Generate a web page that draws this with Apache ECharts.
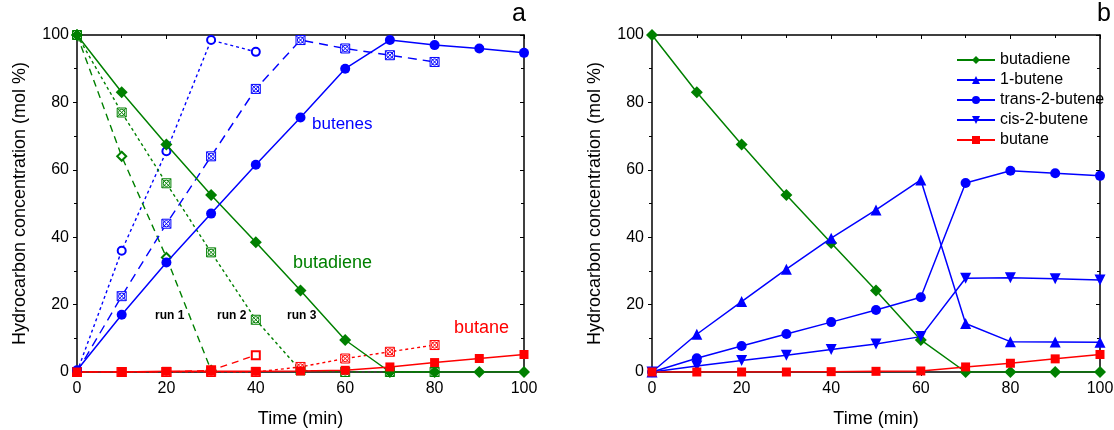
<!DOCTYPE html>
<html><head><meta charset="utf-8">
<script src="https://cdn.jsdelivr.net/npm/echarts@6/dist/echarts.min.js"></script>
<style>html,body{margin:0;padding:0;background:#fff}#c{width:1114px;height:430px}</style>
</head><body><div id="c"></div>
<script>
// ---- data ----
var time = [0,10,20,30,40,50,60,70,80,90,100];
// panel a, run 3 (solid)
var aButadiene3 = [100,83,67.5,52.5,38.5,24.2,9.5,0,0,0,0];
var aButenes3   = [0.5,17,32.5,47,61.5,75.5,90,98.5,97,96,94.7];
var aButane3    = [0,0,0.2,0.2,0.2,0.3,0.5,1.5,2.8,4,5.2];
// run 1
var run1Time = [0,10,20,30,40];
var aButadiene1 = [100,64,34,0.5,null];
var aButenes1   = [0,36,65.5,98.5,95];
var aButane1    = [0,0,0,0.5,5];
// run 2
var run2Time = [0,10,20,30,40,50,60,70,80];
var aButadiene2 = [100,77,56,35.5,15.5,0.5,0,0,0];
var aButenes2   = [0,22.5,44,64,84,98.5,96,94,92];
var aButane2    = [0,0,0,0,0,1.5,4,6,8];
// panel b
var bButadiene = [100,83,67.5,52.5,38.3,24.2,9.5,0,0,0,0];
var b1Butene   = [0,11.2,20.9,30.5,39.7,48.1,57,14.4,9,8.9,8.8];
var bTrans     = [0,4.1,7.7,11.3,14.8,18.4,22.2,56.1,59.7,59,58.2];
var bCis       = [0,1.8,3.4,5,6.7,8.3,10.5,27.8,28,27.7,27.3];
var bButane    = [0,0,0,0,0.1,0.2,0.3,1.5,2.6,3.9,5.2];
var legendNames = ['butadiene','1-butene','trans-2-butene','cis-2-butene','butane'];

function pairs(xs, ys){ var o=[]; for(var i=0;i<xs.length;i++){ if(ys[i]!=null) o.push([xs[i],ys[i]]);} return o; }

var GREEN='#008000', BLUE='#0000ff', RED='#ff0000';
var FONT='Liberation Sans';
var crossSym = 'path://M0,0 L10,0 L10,10 L0,10 Z M0,0 L10,10 M10,0 L0,10 M1.5,5 A3.5,3.5 0 1 1 8.5,5 A3.5,3.5 0 1 1 1.5,5 Z';

function xAx(grid, pos, show){
  return {type:'value', gridIndex:grid, min:0, max:100, interval:20, position:pos,
    name: show?'Time (min)':'', nameLocation:'middle', nameGap:38,
    nameTextStyle:{fontFamily:FONT,fontSize:18,color:'#000'},
    axisLine:{show:true,onZero:false,lineStyle:{color:'#000',width:1.5}},
    axisTick:{show:true,inside:!show,length:4,lineStyle:{color:'#000'}},
    minorTick:{show:true,splitNumber:2,length:3,lineStyle:{color:'#000'}},
    axisLabel:{show:show,fontFamily:FONT,fontSize:16,color:'#000',margin:9},
    splitLine:{show:false}};
}
function yAx(grid, pos, show){
  return {type:'value', gridIndex:grid, min:0, max:100, interval:20, position:pos,
    name: show?'Hydrocarbon concentration (mol %)':'', nameLocation:'middle', nameGap:48,
    nameTextStyle:{fontFamily:FONT,fontSize:18,color:'#000'},
    axisLine:{show:true,onZero:false,lineStyle:{color:'#000',width:1.5}},
    axisTick:{show:true,inside:!show,length:4,lineStyle:{color:'#000'}},
    minorTick:{show:true,splitNumber:2,length:3,lineStyle:{color:'#000'}},
    axisLabel:{show:show,fontFamily:FONT,fontSize:16,color:'#000',margin:8},
    splitLine:{show:false}};
}

function solid(name, xi, yi, xs, ys, color, sym, size){
  return {name:name, type:'line', xAxisIndex:xi, yAxisIndex:yi, data:pairs(xs,ys),
    symbol:sym, symbolSize:size, showSymbol:true, z:3,
    lineStyle:{color:color,width:1.5}, itemStyle:{color:color}, animation:false};
}
function open(xi, yi, xs, ys, color, sym, dash, size){
  var isPath = sym.indexOf('path://')===0;
  return {type:'line', xAxisIndex:xi, yAxisIndex:yi, data:pairs(xs,ys),
    symbol:sym, symbolSize:size, showSymbol:true, z:2,
    lineStyle:{color:color,width:1.4,type:dash},
    itemStyle: isPath ? {color:'#fff',borderColor:color,borderWidth:1} : {color:color,borderWidth:1.2},
    animation:false};
}

var option = {
  backgroundColor:'#fff',
  animation:false,
  grid:[{left:77,right:590,top:35,bottom:58,outerBoundsMode:'none',containLabel:false},
        {left:652,right:14,top:35,bottom:58,outerBoundsMode:'none',containLabel:false}],
  xAxis:[xAx(0,'bottom',true), xAx(0,'top',false), xAx(1,'bottom',true), xAx(1,'top',false)],
  yAxis:[yAx(0,'left',true), yAx(0,'right',false), yAx(1,'left',true), yAx(1,'right',false)],
  legend:{show:true, orient:'vertical', left:951, top:47, itemWidth:38, itemHeight:10, itemGap:4,
    textStyle:{fontFamily:FONT,fontSize:16,color:'#000'},
    data:legendNames},
  series:[
    // panel a run 1
    open(0,0,run1Time,aButenes1,BLUE,'emptyCircle',[3,3],8),
    open(0,0,run1Time,aButadiene1,GREEN,'emptyDiamond',[7,5],9),
    open(0,0,run1Time,aButane1,RED,'emptyRect',[7,5],8),
    // run 2
    open(0,0,run2Time,aButenes2,BLUE,crossSym,[9,6],9),
    open(0,0,run2Time,aButadiene2,GREEN,crossSym,[3,3],9),
    open(0,0,run2Time,aButane2,RED,crossSym,[3,3],9),
    // run 3
    solid('a-butadiene',0,0,time,aButadiene3,GREEN,'diamond',12),
    solid('a-butenes',0,0,time,aButenes3,BLUE,'circle',10),
    solid('a-butane',0,0,time,aButane3,RED,'rect',9),
    // panel b
    solid(legendNames[0],2,2,time,bButadiene,GREEN,'diamond',12),
    solid(legendNames[1],2,2,time,b1Butene,BLUE,'triangle',11),
    solid(legendNames[2],2,2,time,bTrans,BLUE,'circle',10),
    solid(legendNames[3],2,2,time,bCis,BLUE,'path://M0,0 L10,0 L5,9 Z',11),
    solid(legendNames[4],2,2,time,bButane,RED,'rect',9)
  ],
  graphic:[
    {type:'text',left:312,top:116,style:{text:'butenes',font:'17px "Liberation Sans"',fill:BLUE}},
    {type:'text',left:293,top:254,style:{text:'butadiene',font:'18px "Liberation Sans"',fill:GREEN}},
    {type:'text',left:454,top:319,style:{text:'butane',font:'18px "Liberation Sans"',fill:RED}},
    {type:'text',left:155,top:310,style:{text:'run 1',font:'bold 12px "Liberation Sans"',fill:'#000'}},
    {type:'text',left:217,top:310,style:{text:'run 2',font:'bold 12px "Liberation Sans"',fill:'#000'}},
    {type:'text',left:287,top:310,style:{text:'run 3',font:'bold 12px "Liberation Sans"',fill:'#000'}},
    {type:'text',left:512,top:2,style:{text:'a',font:'25px "Liberation Sans"',fill:'#000'}},
    {type:'text',left:1097,top:2,style:{text:'b',font:'25px "Liberation Sans"',fill:'#000'}}
  ]
};
var chart = echarts.init(document.getElementById('c'), null, {renderer:'canvas'});
chart.setOption(option);
</script></body></html>
